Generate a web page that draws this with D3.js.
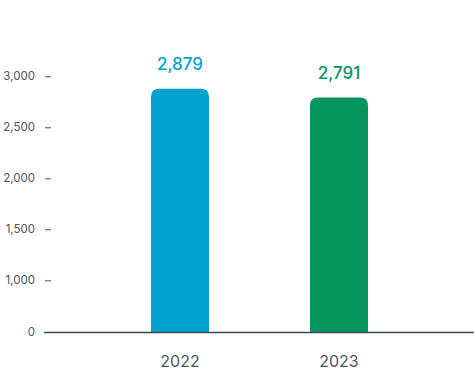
<!DOCTYPE html>
<html lang="en">
<head>
  <meta charset="UTF-8">
  <script src="https://d3js.org/d3.v7.min.js"></script>
  <title>2022 vs 2023</title>
  <style>
    body { margin: 0; font-family: Inter, "Noto Sans", sans-serif; background: #fff; }
  </style>
</head>
<body>
<script>
  // Chart data
  const years = ["2022", "2023"];
  const values = [2879, 2791];
  const barColors = ["#00a3cf", "#07955f"];
  const tickValues = [0, 1000, 1500, 2000, 2500, 3000];

  const width = 474;
  const height = 373;

  const svg = d3.select("body").append("svg")
    .attr("width", width)
    .attr("height", height);

  // Scales
  const x = d3.scaleBand()
    .domain(years)
    .range([71.5, 447.5])
    .paddingInner(0.635)
    .paddingOuter(0.5);

  // broken axis: 0 to 1000 squeezed, 1000 to 3000 linear
  const y = d3.scaleLinear()
    .domain([0, 1000, 3000])
    .range([332, 280.3, 76.3]);

  // Y axis ticks (no axis line)
  const yAxis = svg.append("g")
    .attr("transform", "translate(51,0)")
    .call(d3.axisLeft(y).tickValues(tickValues).tickSize(6).tickPadding(10).tickFormat(d3.format(",")));
  yAxis.select(".domain").remove();
  yAxis.selectAll(".tick line").attr("stroke", "#4b5563").attr("stroke-width", 1);
  yAxis.selectAll(".tick text")
    .attr("fill", "#4b5563")
    .style("font-family", "Inter, sans-serif")
    .style("font-size", "11.5px");

  // Bars with rounded top corners
  const r = 8;
  function barPath(d, i) {
    const x0 = x(years[i]);
    const w = x.bandwidth();
    const y0 = y(d);
    const yb = y(0);
    return `M${x0},${yb} V${y0 + r} Q${x0},${y0} ${x0 + r},${y0} H${x0 + w - r} Q${x0 + w},${y0} ${x0 + w},${y0 + r} V${yb} Z`;
  }

  svg.append("g")
    .selectAll("path")
    .data(values)
    .enter().append("path")
    .attr("d", barPath)
    .attr("fill", (d, i) => barColors[i]);

  // Value labels
  svg.append("g")
    .selectAll("text")
    .data(values)
    .enter().append("text")
    .attr("x", (d, i) => x(years[i]) + x.bandwidth() / 2)
    .attr("y", d => y(d) - 18.5)
    .attr("text-anchor", "middle")
    .attr("fill", (d, i) => barColors[i])
    .style("font-size", "17px")
    .style("font-weight", 500)
    .text(d => d3.format(",")(d));

  // Baseline
  svg.append("line")
    .attr("x1", 44)
    .attr("x2", 474)
    .attr("y1", y(0) + 0.5)
    .attr("y2", y(0) + 0.5)
    .attr("stroke", "#3f4a54")
    .attr("stroke-width", 1.5);

  // X labels
  svg.append("g")
    .selectAll("text")
    .data(years)
    .enter().append("text")
    .attr("x", d => x(d) + x.bandwidth() / 2)
    .attr("y", 367)
    .attr("text-anchor", "middle")
    .attr("fill", "#4b5563")
    .style("font-size", "16px")
    .text(d => d);
</script>
</body>
</html>
